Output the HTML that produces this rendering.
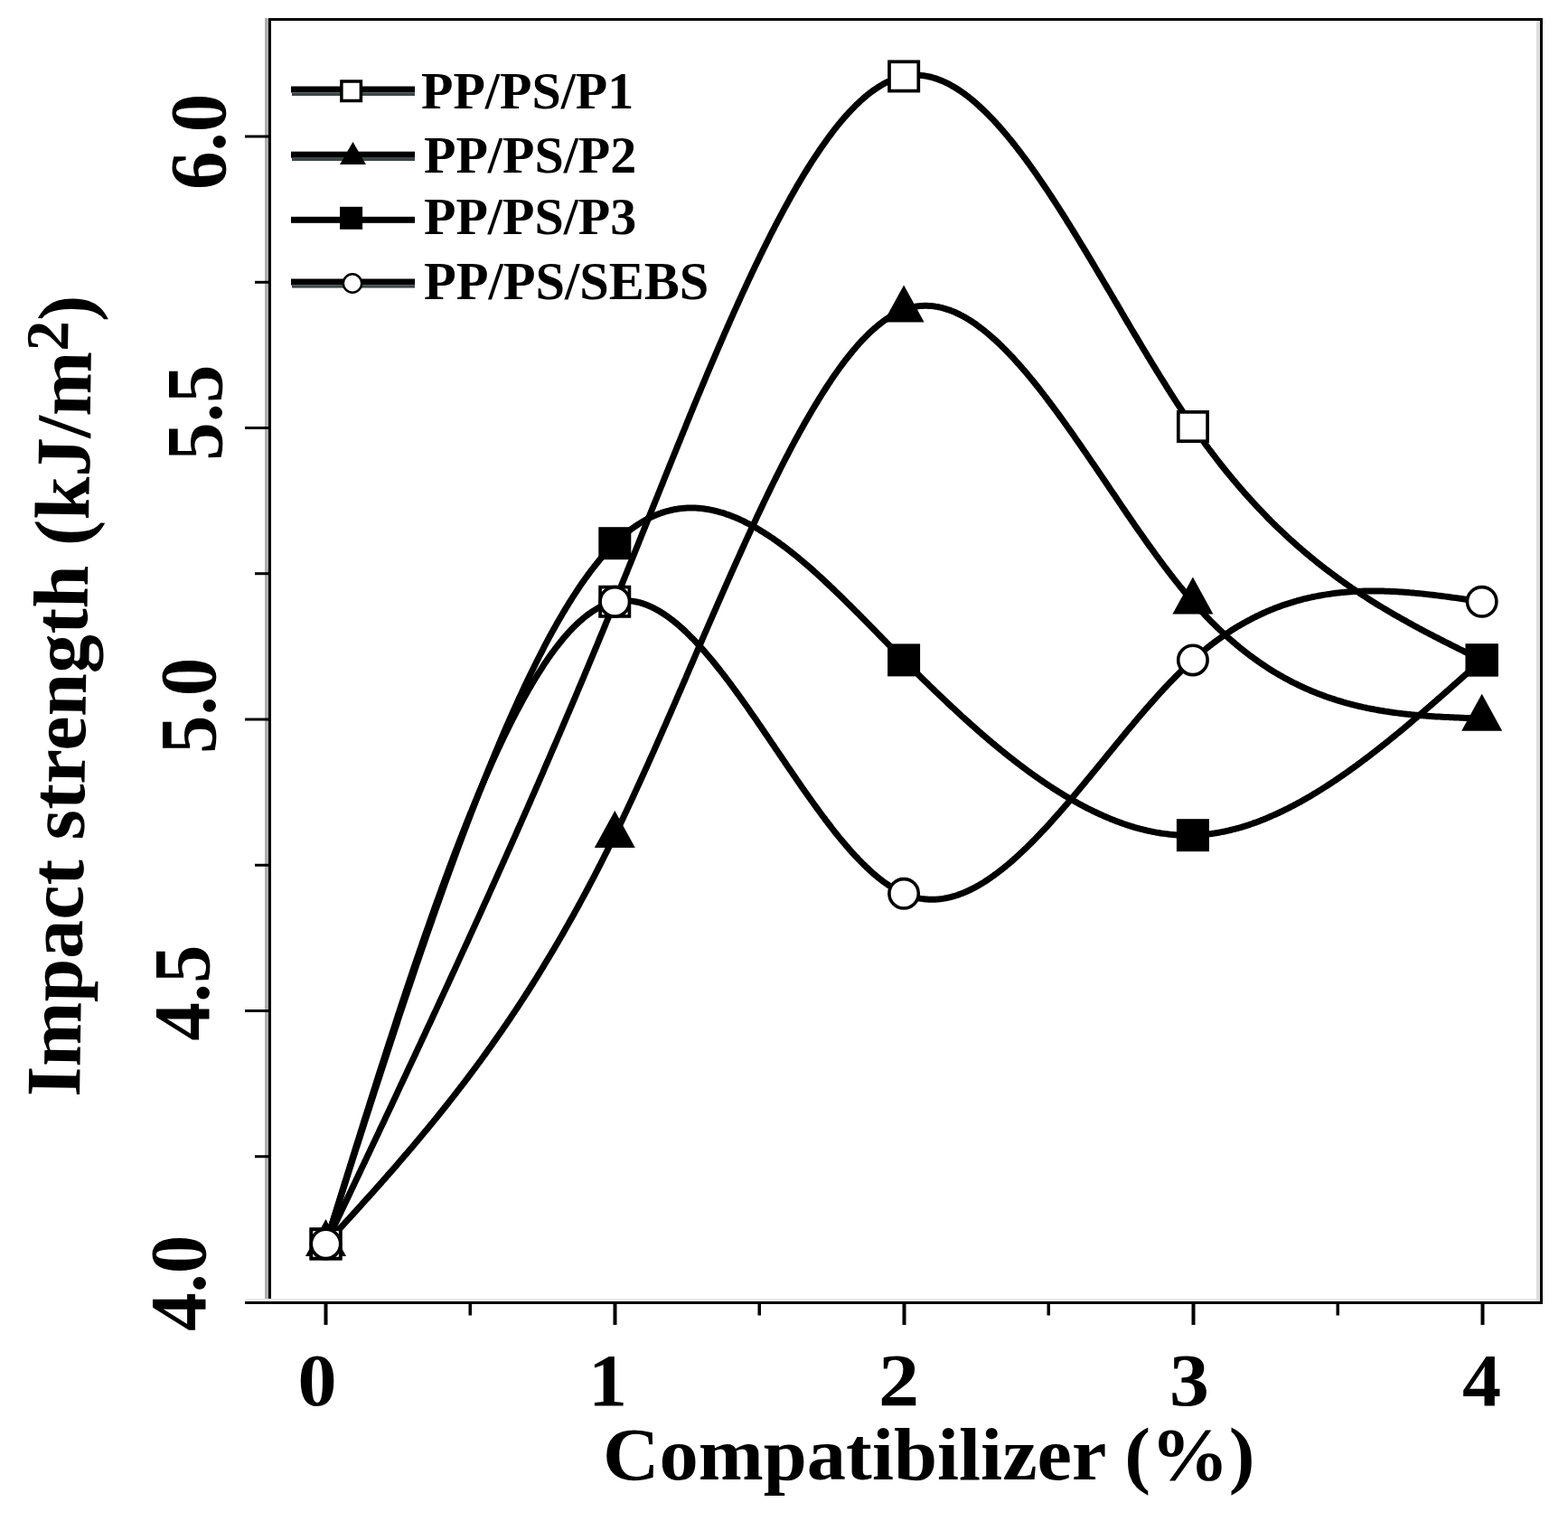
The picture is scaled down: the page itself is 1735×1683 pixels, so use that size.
<!DOCTYPE html><html><head><meta charset="utf-8"><style>html,body{margin:0;padding:0;background:#fff;overflow:hidden}svg{display:block}text{font-family:"Liberation Serif","Times New Roman",serif;font-weight:bold}</style></head><body><svg width="1735" height="1683" viewBox="0 0 1735 1683">
<rect width="1735" height="1683" fill="#fff"/>
<rect x="293" y="20" width="4" height="1420" fill="#aeaeae"/>
<rect x="1700" y="23" width="4" height="1417" fill="#dddddd"/>
<rect x="297" y="20" width="3" height="1423" fill="#000"/>
<rect x="297" y="20" width="1410" height="3" fill="#000"/>
<rect x="1704" y="20" width="3" height="1423" fill="#000"/>
<rect x="271" y="1437" width="1429" height="3" fill="#ececec"/>
<rect x="271" y="1440" width="1436" height="3" fill="#000"/>
<rect x="271" y="1117.0" width="27" height="3" fill="#000"/>
<rect x="271" y="794.5" width="27" height="3" fill="#000"/>
<rect x="271" y="472.0" width="27" height="3" fill="#000"/>
<rect x="271" y="149.5" width="27" height="3" fill="#000"/>
<rect x="282" y="1278.2" width="16" height="3" fill="#000"/>
<rect x="282" y="955.8" width="16" height="3" fill="#000"/>
<rect x="282" y="633.2" width="16" height="3" fill="#000"/>
<rect x="282" y="310.8" width="16" height="3" fill="#000"/>
<rect x="358.5" y="1442" width="4" height="24" fill="#000"/>
<rect x="678.5" y="1442" width="4" height="24" fill="#000"/>
<rect x="998.5" y="1442" width="4" height="24" fill="#000"/>
<rect x="1318.5" y="1442" width="4" height="24" fill="#000"/>
<rect x="1638.5" y="1442" width="4" height="24" fill="#000"/>
<rect x="518.5" y="1442" width="3.5" height="13.5" fill="#000"/>
<rect x="838.5" y="1442" width="3.5" height="13.5" fill="#000"/>
<rect x="1158.5" y="1442" width="3.5" height="13.5" fill="#000"/>
<rect x="1478.5" y="1442" width="3.5" height="13.5" fill="#000"/>
<path d="M360.5,1376.4 L362.1,1373.0 L363.7,1369.7 L365.3,1366.3 L366.9,1362.9 L368.5,1359.6 L370.1,1356.2 L371.7,1352.8 L373.3,1349.5 L374.9,1346.1 L376.5,1342.7 L378.1,1339.3 L379.7,1336.0 L381.3,1332.6 L382.9,1329.2 L384.5,1325.9 L386.1,1322.5 L387.7,1319.1 L389.3,1315.7 L390.9,1312.4 L392.5,1309.0 L394.1,1305.6 L395.7,1302.2 L397.3,1298.9 L398.9,1295.5 L400.5,1292.1 L402.1,1288.7 L403.7,1285.4 L405.3,1282.0 L406.9,1278.6 L408.5,1275.2 L410.1,1271.8 L411.7,1268.5 L413.3,1265.1 L414.9,1261.7 L416.5,1258.3 L418.1,1254.9 L419.7,1251.5 L421.3,1248.1 L422.9,1244.8 L424.5,1241.4 L426.1,1238.0 L427.7,1234.6 L429.3,1231.2 L430.9,1227.8 L432.5,1224.4 L434.1,1221.0 L435.7,1217.6 L437.3,1214.2 L438.9,1210.8 L440.4,1207.4 L442.0,1204.0 L443.6,1200.6 L445.2,1197.2 L446.8,1193.8 L448.4,1190.4 L450.0,1187.0 L451.6,1183.5 L453.2,1180.1 L454.8,1176.7 L456.4,1173.3 L458.0,1169.9 L459.6,1166.5 L461.2,1163.0 L462.8,1159.6 L464.4,1156.2 L466.0,1152.8 L467.6,1149.3 L469.2,1145.9 L470.8,1142.5 L472.4,1139.0 L474.0,1135.6 L475.6,1132.2 L477.2,1128.7 L478.8,1125.3 L480.4,1121.8 L482.0,1118.4 L483.6,1114.9 L485.2,1111.5 L486.8,1108.0 L488.4,1104.6 L490.0,1101.1 L491.6,1097.6 L493.2,1094.2 L494.8,1090.7 L496.4,1087.2 L498.0,1083.8 L499.6,1080.3 L501.2,1076.8 L502.8,1073.4 L504.4,1069.9 L506.0,1066.4 L507.6,1062.9 L509.2,1059.4 L510.8,1055.9 L512.4,1052.4 L514.0,1048.9 L515.6,1045.5 L517.2,1042.0 L518.8,1038.4 L520.4,1034.9 L522.0,1031.4 L523.6,1027.9 L525.2,1024.4 L526.8,1020.9 L528.4,1017.4 L530.0,1013.9 L531.6,1010.3 L533.2,1006.8 L534.8,1003.3 L536.4,999.7 L538.0,996.2 L539.6,992.7 L541.2,989.1 L542.8,985.6 L544.4,982.0 L546.0,978.5 L547.6,974.9 L549.2,971.3 L550.8,967.8 L552.4,964.2 L554.0,960.6 L555.6,957.1 L557.2,953.5 L558.8,949.9 L560.4,946.3 L562.0,942.7 L563.6,939.2 L565.2,935.6 L566.8,932.0 L568.4,928.4 L570.0,924.8 L571.6,921.2 L573.2,917.5 L574.8,913.9 L576.4,910.3 L578.0,906.7 L579.6,903.1 L581.2,899.4 L582.8,895.8 L584.4,892.2 L586.0,888.5 L587.6,884.9 L589.2,881.2 L590.8,877.6 L592.4,873.9 L594.0,870.2 L595.6,866.6 L597.2,862.9 L598.8,859.2 L600.4,855.6 L601.9,851.9 L603.5,848.2 L605.1,844.5 L606.7,840.8 L608.3,837.1 L609.9,833.4 L611.5,829.7 L613.1,826.0 L614.7,822.3 L616.3,818.6 L617.9,814.8 L619.5,811.1 L621.1,807.4 L622.7,803.6 L624.3,799.9 L625.9,796.1 L627.5,792.4 L629.1,788.6 L630.7,784.9 L632.3,781.1 L633.9,777.3 L635.5,773.6 L637.1,769.8 L638.7,766.0 L640.3,762.2 L641.9,758.4 L643.5,754.6 L645.1,750.8 L646.7,747.0 L648.3,743.2 L649.9,739.4 L651.5,735.5 L653.1,731.7 L654.7,727.9 L656.3,724.0 L657.9,720.2 L659.5,716.3 L661.1,712.5 L662.7,708.6 L664.3,704.7 L665.9,700.9 L667.5,697.0 L669.1,693.1 L670.7,689.2 L672.3,685.3 L673.9,681.4 L675.5,677.5 L677.1,673.6 L678.7,669.7 L680.3,665.8 L681.9,661.9 L683.5,657.9 L685.1,654.0 L686.7,650.1 L688.3,646.1 L689.9,642.2 L691.5,638.2 L693.1,634.3 L694.7,630.3 L696.3,626.3 L697.9,622.4 L699.5,618.4 L701.1,614.4 L702.7,610.5 L704.3,606.5 L705.9,602.5 L707.5,598.5 L709.1,594.5 L710.7,590.5 L712.3,586.6 L713.9,582.6 L715.5,578.6 L717.1,574.6 L718.7,570.6 L720.3,566.6 L721.9,562.6 L723.5,558.7 L725.1,554.7 L726.7,550.7 L728.3,546.7 L729.9,542.7 L731.5,538.7 L733.1,534.8 L734.7,530.8 L736.3,526.8 L737.9,522.8 L739.5,518.9 L741.1,514.9 L742.7,511.0 L744.3,507.0 L745.9,503.0 L747.5,499.1 L749.1,495.1 L750.7,491.2 L752.3,487.3 L753.9,483.3 L755.5,479.4 L757.1,475.5 L758.7,471.6 L760.2,467.7 L761.8,463.8 L763.4,459.9 L765.0,456.0 L766.6,452.1 L768.2,448.2 L769.8,444.4 L771.4,440.5 L773.0,436.7 L774.6,432.8 L776.2,429.0 L777.8,425.1 L779.4,421.3 L781.0,417.5 L782.6,413.7 L784.2,409.9 L785.8,406.2 L787.4,402.4 L789.0,398.6 L790.6,394.9 L792.2,391.1 L793.8,387.4 L795.4,383.7 L797.0,380.0 L798.6,376.3 L800.2,372.6 L801.8,368.9 L803.4,365.3 L805.0,361.6 L806.6,358.0 L808.2,354.4 L809.8,350.8 L811.4,347.2 L813.0,343.6 L814.6,340.1 L816.2,336.5 L817.8,333.0 L819.4,329.4 L821.0,325.9 L822.6,322.4 L824.2,319.0 L825.8,315.5 L827.4,312.1 L829.0,308.6 L830.6,305.2 L832.2,301.8 L833.8,298.5 L835.4,295.1 L837.0,291.8 L838.6,288.4 L840.2,285.1 L841.8,281.8 L843.4,278.6 L845.0,275.3 L846.6,272.1 L848.2,268.9 L849.8,265.7 L851.4,262.5 L853.0,259.3 L854.6,256.2 L856.2,253.1 L857.8,250.0 L859.4,246.9 L861.0,243.8 L862.6,240.8 L864.2,237.8 L865.8,234.8 L867.4,231.8 L869.0,228.9 L870.6,226.0 L872.2,223.1 L873.8,220.2 L875.4,217.3 L877.0,214.5 L878.6,211.7 L880.2,208.9 L881.8,206.1 L883.4,203.4 L885.0,200.7 L886.6,198.0 L888.2,195.3 L889.8,192.7 L891.4,190.0 L893.0,187.5 L894.6,184.9 L896.2,182.4 L897.8,179.8 L899.4,177.4 L901.0,174.9 L902.6,172.5 L904.2,170.1 L905.8,167.7 L907.4,165.3 L909.0,163.0 L910.6,160.7 L912.2,158.5 L913.8,156.2 L915.4,154.0 L917.0,151.8 L918.6,149.7 L920.1,147.6 L921.7,145.5 L923.3,143.4 L924.9,141.4 L926.5,139.4 L928.1,137.4 L929.7,135.5 L931.3,133.6 L932.9,131.7 L934.5,129.8 L936.1,128.0 L937.7,126.3 L939.3,124.5 L940.9,122.8 L942.5,121.1 L944.1,119.5 L945.7,117.8 L947.3,116.3 L948.9,114.7 L950.5,113.2 L952.1,111.7 L953.7,110.3 L955.3,108.9 L956.9,107.5 L958.5,106.1 L960.1,104.8 L961.7,103.6 L963.3,102.3 L964.9,101.1 L966.5,100.0 L968.1,98.9 L969.7,97.8 L971.3,96.7 L972.9,95.7 L974.5,94.7 L976.1,93.8 L977.7,92.9 L979.3,92.0 L980.9,91.2 L982.5,90.4 L984.1,89.7 L985.7,89.0 L987.3,88.3 L988.9,87.7 L990.5,87.1 L992.1,86.5 L993.7,86.0 L995.3,85.6 L996.9,85.1 L998.5,84.7 L1000.1,84.4 L1001.7,84.1 L1003.3,83.8 L1004.9,83.6 L1006.5,83.4 L1008.1,83.3 L1009.7,83.2 L1011.3,83.1 L1012.9,83.1 L1014.5,83.1 L1016.1,83.2 L1017.7,83.3 L1019.3,83.4 L1020.9,83.6 L1022.5,83.8 L1024.1,84.1 L1025.7,84.4 L1027.3,84.7 L1028.9,85.0 L1030.5,85.4 L1032.1,85.9 L1033.7,86.3 L1035.3,86.8 L1036.9,87.4 L1038.5,88.0 L1040.1,88.6 L1041.7,89.2 L1043.3,89.9 L1044.9,90.6 L1046.5,91.3 L1048.1,92.1 L1049.7,92.9 L1051.3,93.8 L1052.9,94.7 L1054.5,95.6 L1056.1,96.5 L1057.7,97.5 L1059.3,98.5 L1060.9,99.5 L1062.5,100.6 L1064.1,101.7 L1065.7,102.8 L1067.3,104.0 L1068.9,105.1 L1070.5,106.4 L1072.1,107.6 L1073.7,108.9 L1075.3,110.2 L1076.9,111.5 L1078.5,112.9 L1080.1,114.2 L1081.6,115.7 L1083.2,117.1 L1084.8,118.6 L1086.4,120.1 L1088.0,121.6 L1089.6,123.1 L1091.2,124.7 L1092.8,126.3 L1094.4,127.9 L1096.0,129.6 L1097.6,131.2 L1099.2,132.9 L1100.8,134.6 L1102.4,136.4 L1104.0,138.1 L1105.6,139.9 L1107.2,141.7 L1108.8,143.6 L1110.4,145.4 L1112.0,147.3 L1113.6,149.2 L1115.2,151.1 L1116.8,153.1 L1118.4,155.0 L1120.0,157.0 L1121.6,159.0 L1123.2,161.0 L1124.8,163.1 L1126.4,165.2 L1128.0,167.2 L1129.6,169.3 L1131.2,171.5 L1132.8,173.6 L1134.4,175.7 L1136.0,177.9 L1137.6,180.1 L1139.2,182.3 L1140.8,184.5 L1142.4,186.8 L1144.0,189.0 L1145.6,191.3 L1147.2,193.6 L1148.8,195.9 L1150.4,198.2 L1152.0,200.6 L1153.6,202.9 L1155.2,205.3 L1156.8,207.7 L1158.4,210.0 L1160.0,212.4 L1161.6,214.9 L1163.2,217.3 L1164.8,219.7 L1166.4,222.2 L1168.0,224.7 L1169.6,227.1 L1171.2,229.6 L1172.8,232.1 L1174.4,234.6 L1176.0,237.2 L1177.6,239.7 L1179.2,242.2 L1180.8,244.8 L1182.4,247.4 L1184.0,249.9 L1185.6,252.5 L1187.2,255.1 L1188.8,257.7 L1190.4,260.3 L1192.0,262.9 L1193.6,265.5 L1195.2,268.2 L1196.8,270.8 L1198.4,273.4 L1200.0,276.1 L1201.6,278.7 L1203.2,281.4 L1204.8,284.1 L1206.4,286.7 L1208.0,289.4 L1209.6,292.1 L1211.2,294.8 L1212.8,297.5 L1214.4,300.2 L1216.0,302.9 L1217.6,305.6 L1219.2,308.3 L1220.8,311.0 L1222.4,313.7 L1224.0,316.4 L1225.6,319.1 L1227.2,321.8 L1228.8,324.5 L1230.4,327.2 L1232.0,329.9 L1233.6,332.7 L1235.2,335.4 L1236.8,338.1 L1238.4,340.8 L1240.0,343.5 L1241.5,346.2 L1243.1,348.9 L1244.7,351.7 L1246.3,354.4 L1247.9,357.1 L1249.5,359.8 L1251.1,362.5 L1252.7,365.2 L1254.3,367.9 L1255.9,370.6 L1257.5,373.2 L1259.1,375.9 L1260.7,378.6 L1262.3,381.3 L1263.9,384.0 L1265.5,386.6 L1267.1,389.3 L1268.7,391.9 L1270.3,394.6 L1271.9,397.2 L1273.5,399.8 L1275.1,402.5 L1276.7,405.1 L1278.3,407.7 L1279.9,410.3 L1281.5,412.9 L1283.1,415.5 L1284.7,418.1 L1286.3,420.6 L1287.9,423.2 L1289.5,425.7 L1291.1,428.3 L1292.7,430.8 L1294.3,433.3 L1295.9,435.8 L1297.5,438.3 L1299.1,440.8 L1300.7,443.3 L1302.3,445.8 L1303.9,448.2 L1305.5,450.7 L1307.1,453.1 L1308.7,455.5 L1310.3,457.9 L1311.9,460.3 L1313.5,462.7 L1315.1,465.0 L1316.7,467.4 L1318.3,469.7 L1319.9,472.0 L1321.5,474.3 L1323.1,476.6 L1324.7,478.9 L1326.3,481.1 L1327.9,483.3 L1329.5,485.6 L1331.1,487.8 L1332.7,490.0 L1334.3,492.2 L1335.9,494.3 L1337.5,496.5 L1339.1,498.6 L1340.7,500.7 L1342.3,502.8 L1343.9,504.9 L1345.5,507.0 L1347.1,509.1 L1348.7,511.1 L1350.3,513.2 L1351.9,515.2 L1353.5,517.2 L1355.1,519.2 L1356.7,521.2 L1358.3,523.2 L1359.9,525.1 L1361.5,527.1 L1363.1,529.0 L1364.7,530.9 L1366.3,532.8 L1367.9,534.7 L1369.5,536.6 L1371.1,538.4 L1372.7,540.3 L1374.3,542.1 L1375.9,544.0 L1377.5,545.8 L1379.1,547.6 L1380.7,549.4 L1382.3,551.2 L1383.9,552.9 L1385.5,554.7 L1387.1,556.4 L1388.7,558.1 L1390.3,559.9 L1391.9,561.6 L1393.5,563.3 L1395.1,564.9 L1396.7,566.6 L1398.3,568.3 L1399.9,569.9 L1401.4,571.5 L1403.0,573.2 L1404.6,574.8 L1406.2,576.4 L1407.8,578.0 L1409.4,579.6 L1411.0,581.1 L1412.6,582.7 L1414.2,584.2 L1415.8,585.8 L1417.4,587.3 L1419.0,588.8 L1420.6,590.3 L1422.2,591.8 L1423.8,593.3 L1425.4,594.8 L1427.0,596.2 L1428.6,597.7 L1430.2,599.1 L1431.8,600.5 L1433.4,602.0 L1435.0,603.4 L1436.6,604.8 L1438.2,606.2 L1439.8,607.6 L1441.4,608.9 L1443.0,610.3 L1444.6,611.7 L1446.2,613.0 L1447.8,614.3 L1449.4,615.7 L1451.0,617.0 L1452.6,618.3 L1454.2,619.6 L1455.8,620.9 L1457.4,622.2 L1459.0,623.5 L1460.6,624.7 L1462.2,626.0 L1463.8,627.2 L1465.4,628.5 L1467.0,629.7 L1468.6,630.9 L1470.2,632.1 L1471.8,633.3 L1473.4,634.5 L1475.0,635.7 L1476.6,636.9 L1478.2,638.1 L1479.8,639.3 L1481.4,640.4 L1483.0,641.6 L1484.6,642.7 L1486.2,643.9 L1487.8,645.0 L1489.4,646.1 L1491.0,647.2 L1492.6,648.4 L1494.2,649.5 L1495.8,650.6 L1497.4,651.6 L1499.0,652.7 L1500.6,653.8 L1502.2,654.9 L1503.8,655.9 L1505.4,657.0 L1507.0,658.0 L1508.6,659.1 L1510.2,660.1 L1511.8,661.1 L1513.4,662.2 L1515.0,663.2 L1516.6,664.2 L1518.2,665.2 L1519.8,666.2 L1521.4,667.2 L1523.0,668.2 L1524.6,669.2 L1526.2,670.2 L1527.8,671.1 L1529.4,672.1 L1531.0,673.1 L1532.6,674.0 L1534.2,675.0 L1535.8,675.9 L1537.4,676.9 L1539.0,677.8 L1540.6,678.7 L1542.2,679.7 L1543.8,680.6 L1545.4,681.5 L1547.0,682.4 L1548.6,683.3 L1550.2,684.2 L1551.8,685.1 L1553.4,686.0 L1555.0,686.9 L1556.6,687.8 L1558.2,688.7 L1559.8,689.6 L1561.3,690.5 L1562.9,691.3 L1564.5,692.2 L1566.1,693.1 L1567.7,693.9 L1569.3,694.8 L1570.9,695.7 L1572.5,696.5 L1574.1,697.4 L1575.7,698.2 L1577.3,699.1 L1578.9,699.9 L1580.5,700.7 L1582.1,701.6 L1583.7,702.4 L1585.3,703.2 L1586.9,704.1 L1588.5,704.9 L1590.1,705.7 L1591.7,706.5 L1593.3,707.3 L1594.9,708.2 L1596.5,709.0 L1598.1,709.8 L1599.7,710.6 L1601.3,711.4 L1602.9,712.2 L1604.5,713.0 L1606.1,713.8 L1607.7,714.6 L1609.3,715.4 L1610.9,716.2 L1612.5,717.0 L1614.1,717.8 L1615.7,718.6 L1617.3,719.4 L1618.9,720.2 L1620.5,721.0 L1622.1,721.8 L1623.7,722.5 L1625.3,723.3 L1626.9,724.1 L1628.5,724.9 L1630.1,725.7 L1631.7,726.5 L1633.3,727.3 L1634.9,728.0 L1636.5,728.8 L1638.1,729.6 L1639.7,730.4" fill="none" stroke="#000" stroke-width="7.0" stroke-linejoin="round"/>
<path d="M360.5,1376.4 L362.1,1374.7 L363.7,1372.9 L365.3,1371.2 L366.9,1369.4 L368.5,1367.7 L370.1,1365.9 L371.7,1364.2 L373.3,1362.4 L374.9,1360.7 L376.5,1358.9 L378.1,1357.2 L379.7,1355.4 L381.3,1353.7 L382.9,1351.9 L384.5,1350.1 L386.1,1348.4 L387.7,1346.6 L389.3,1344.9 L390.9,1343.1 L392.5,1341.3 L394.1,1339.6 L395.7,1337.8 L397.3,1336.0 L398.9,1334.3 L400.5,1332.5 L402.1,1330.7 L403.7,1329.0 L405.3,1327.2 L406.9,1325.4 L408.5,1323.6 L410.1,1321.8 L411.7,1320.1 L413.3,1318.3 L414.9,1316.5 L416.5,1314.7 L418.1,1312.9 L419.7,1311.1 L421.3,1309.3 L422.9,1307.5 L424.5,1305.7 L426.1,1303.9 L427.7,1302.0 L429.3,1300.2 L430.9,1298.4 L432.5,1296.6 L434.1,1294.8 L435.7,1292.9 L437.3,1291.1 L438.9,1289.3 L440.4,1287.4 L442.0,1285.6 L443.6,1283.7 L445.2,1281.9 L446.8,1280.0 L448.4,1278.1 L450.0,1276.3 L451.6,1274.4 L453.2,1272.5 L454.8,1270.7 L456.4,1268.8 L458.0,1266.9 L459.6,1265.0 L461.2,1263.1 L462.8,1261.2 L464.4,1259.3 L466.0,1257.4 L467.6,1255.4 L469.2,1253.5 L470.8,1251.6 L472.4,1249.7 L474.0,1247.7 L475.6,1245.8 L477.2,1243.8 L478.8,1241.9 L480.4,1239.9 L482.0,1237.9 L483.6,1236.0 L485.2,1234.0 L486.8,1232.0 L488.4,1230.0 L490.0,1228.0 L491.6,1226.0 L493.2,1224.0 L494.8,1222.0 L496.4,1220.0 L498.0,1217.9 L499.6,1215.9 L501.2,1213.9 L502.8,1211.8 L504.4,1209.8 L506.0,1207.7 L507.6,1205.6 L509.2,1203.5 L510.8,1201.5 L512.4,1199.4 L514.0,1197.3 L515.6,1195.2 L517.2,1193.1 L518.8,1190.9 L520.4,1188.8 L522.0,1186.7 L523.6,1184.5 L525.2,1182.4 L526.8,1180.2 L528.4,1178.0 L530.0,1175.9 L531.6,1173.7 L533.2,1171.5 L534.8,1169.3 L536.4,1167.1 L538.0,1164.9 L539.6,1162.6 L541.2,1160.4 L542.8,1158.2 L544.4,1155.9 L546.0,1153.6 L547.6,1151.4 L549.2,1149.1 L550.8,1146.8 L552.4,1144.5 L554.0,1142.2 L555.6,1139.9 L557.2,1137.6 L558.8,1135.2 L560.4,1132.9 L562.0,1130.5 L563.6,1128.2 L565.2,1125.8 L566.8,1123.4 L568.4,1121.0 L570.0,1118.6 L571.6,1116.2 L573.2,1113.8 L574.8,1111.3 L576.4,1108.9 L578.0,1106.4 L579.6,1104.0 L581.2,1101.5 L582.8,1099.0 L584.4,1096.5 L586.0,1094.0 L587.6,1091.5 L589.2,1089.0 L590.8,1086.4 L592.4,1083.9 L594.0,1081.3 L595.6,1078.7 L597.2,1076.1 L598.8,1073.5 L600.4,1070.9 L601.9,1068.3 L603.5,1065.7 L605.1,1063.0 L606.7,1060.4 L608.3,1057.7 L609.9,1055.0 L611.5,1052.4 L613.1,1049.7 L614.7,1046.9 L616.3,1044.2 L617.9,1041.5 L619.5,1038.7 L621.1,1036.0 L622.7,1033.2 L624.3,1030.4 L625.9,1027.6 L627.5,1024.8 L629.1,1021.9 L630.7,1019.1 L632.3,1016.2 L633.9,1013.4 L635.5,1010.5 L637.1,1007.6 L638.7,1004.7 L640.3,1001.8 L641.9,998.8 L643.5,995.9 L645.1,992.9 L646.7,990.0 L648.3,987.0 L649.9,984.0 L651.5,981.0 L653.1,977.9 L654.7,974.9 L656.3,971.8 L657.9,968.8 L659.5,965.7 L661.1,962.6 L662.7,959.4 L664.3,956.3 L665.9,953.2 L667.5,950.0 L669.1,946.8 L670.7,943.7 L672.3,940.4 L673.9,937.2 L675.5,934.0 L677.1,930.7 L678.7,927.5 L680.3,924.2 L681.9,920.9 L683.5,917.6 L685.1,914.3 L686.7,910.9 L688.3,907.6 L689.9,904.2 L691.5,900.8 L693.1,897.4 L694.7,894.0 L696.3,890.6 L697.9,887.2 L699.5,883.7 L701.1,880.3 L702.7,876.8 L704.3,873.3 L705.9,869.8 L707.5,866.3 L709.1,862.8 L710.7,859.3 L712.3,855.8 L713.9,852.2 L715.5,848.7 L717.1,845.1 L718.7,841.5 L720.3,837.9 L721.9,834.4 L723.5,830.8 L725.1,827.2 L726.7,823.6 L728.3,819.9 L729.9,816.3 L731.5,812.7 L733.1,809.0 L734.7,805.4 L736.3,801.8 L737.9,798.1 L739.5,794.4 L741.1,790.8 L742.7,787.1 L744.3,783.4 L745.9,779.8 L747.5,776.1 L749.1,772.4 L750.7,768.7 L752.3,765.0 L753.9,761.3 L755.5,757.7 L757.1,754.0 L758.7,750.3 L760.2,746.6 L761.8,742.9 L763.4,739.2 L765.0,735.5 L766.6,731.8 L768.2,728.1 L769.8,724.4 L771.4,720.7 L773.0,717.0 L774.6,713.3 L776.2,709.6 L777.8,705.9 L779.4,702.2 L781.0,698.5 L782.6,694.8 L784.2,691.2 L785.8,687.5 L787.4,683.8 L789.0,680.1 L790.6,676.5 L792.2,672.8 L793.8,669.1 L795.4,665.5 L797.0,661.8 L798.6,658.2 L800.2,654.6 L801.8,650.9 L803.4,647.3 L805.0,643.7 L806.6,640.1 L808.2,636.5 L809.8,632.9 L811.4,629.3 L813.0,625.7 L814.6,622.2 L816.2,618.6 L817.8,615.1 L819.4,611.5 L821.0,608.0 L822.6,604.5 L824.2,600.9 L825.8,597.4 L827.4,594.0 L829.0,590.5 L830.6,587.0 L832.2,583.5 L833.8,580.1 L835.4,576.7 L837.0,573.2 L838.6,569.8 L840.2,566.4 L841.8,563.1 L843.4,559.7 L845.0,556.3 L846.6,553.0 L848.2,549.7 L849.8,546.4 L851.4,543.1 L853.0,539.8 L854.6,536.5 L856.2,533.3 L857.8,530.1 L859.4,526.9 L861.0,523.7 L862.6,520.5 L864.2,517.3 L865.8,514.2 L867.4,511.0 L869.0,507.9 L870.6,504.8 L872.2,501.8 L873.8,498.7 L875.4,495.7 L877.0,492.7 L878.6,489.7 L880.2,486.7 L881.8,483.8 L883.4,480.8 L885.0,477.9 L886.6,475.0 L888.2,472.2 L889.8,469.3 L891.4,466.5 L893.0,463.7 L894.6,460.9 L896.2,458.2 L897.8,455.4 L899.4,452.7 L901.0,450.1 L902.6,447.4 L904.2,444.8 L905.8,442.2 L907.4,439.6 L909.0,437.0 L910.6,434.5 L912.2,432.0 L913.8,429.5 L915.4,427.0 L917.0,424.6 L918.6,422.2 L920.1,419.9 L921.7,417.5 L923.3,415.2 L924.9,412.9 L926.5,410.7 L928.1,408.4 L929.7,406.2 L931.3,404.1 L932.9,401.9 L934.5,399.8 L936.1,397.7 L937.7,395.7 L939.3,393.7 L940.9,391.7 L942.5,389.7 L944.1,387.8 L945.7,385.9 L947.3,384.0 L948.9,382.2 L950.5,380.4 L952.1,378.7 L953.7,376.9 L955.3,375.3 L956.9,373.6 L958.5,372.0 L960.1,370.4 L961.7,368.8 L963.3,367.3 L964.9,365.8 L966.5,364.4 L968.1,363.0 L969.7,361.6 L971.3,360.3 L972.9,359.0 L974.5,357.7 L976.1,356.5 L977.7,355.3 L979.3,354.1 L980.9,353.0 L982.5,352.0 L984.1,350.9 L985.7,349.9 L987.3,349.0 L988.9,348.1 L990.5,347.2 L992.1,346.3 L993.7,345.6 L995.3,344.8 L996.9,344.1 L998.5,343.4 L1000.1,342.8 L1001.7,342.2 L1003.3,341.7 L1004.9,341.2 L1006.5,340.7 L1008.1,340.3 L1009.7,339.9 L1011.3,339.6 L1012.9,339.3 L1014.5,339.0 L1016.1,338.8 L1017.7,338.6 L1019.3,338.5 L1020.9,338.4 L1022.5,338.3 L1024.1,338.3 L1025.7,338.3 L1027.3,338.4 L1028.9,338.4 L1030.5,338.6 L1032.1,338.7 L1033.7,338.9 L1035.3,339.2 L1036.9,339.4 L1038.5,339.7 L1040.1,340.1 L1041.7,340.4 L1043.3,340.9 L1044.9,341.3 L1046.5,341.8 L1048.1,342.3 L1049.7,342.8 L1051.3,343.4 L1052.9,344.0 L1054.5,344.6 L1056.1,345.3 L1057.7,346.0 L1059.3,346.8 L1060.9,347.5 L1062.5,348.3 L1064.1,349.1 L1065.7,350.0 L1067.3,350.9 L1068.9,351.8 L1070.5,352.8 L1072.1,353.7 L1073.7,354.7 L1075.3,355.8 L1076.9,356.8 L1078.5,357.9 L1080.1,359.0 L1081.6,360.2 L1083.2,361.4 L1084.8,362.6 L1086.4,363.8 L1088.0,365.0 L1089.6,366.3 L1091.2,367.6 L1092.8,368.9 L1094.4,370.3 L1096.0,371.7 L1097.6,373.1 L1099.2,374.5 L1100.8,375.9 L1102.4,377.4 L1104.0,378.9 L1105.6,380.4 L1107.2,381.9 L1108.8,383.5 L1110.4,385.1 L1112.0,386.7 L1113.6,388.3 L1115.2,390.0 L1116.8,391.6 L1118.4,393.3 L1120.0,395.0 L1121.6,396.7 L1123.2,398.5 L1124.8,400.3 L1126.4,402.0 L1128.0,403.8 L1129.6,405.7 L1131.2,407.5 L1132.8,409.4 L1134.4,411.2 L1136.0,413.1 L1137.6,415.0 L1139.2,416.9 L1140.8,418.9 L1142.4,420.8 L1144.0,422.8 L1145.6,424.8 L1147.2,426.8 L1148.8,428.8 L1150.4,430.8 L1152.0,432.9 L1153.6,434.9 L1155.2,437.0 L1156.8,439.1 L1158.4,441.2 L1160.0,443.3 L1161.6,445.4 L1163.2,447.6 L1164.8,449.7 L1166.4,451.9 L1168.0,454.0 L1169.6,456.2 L1171.2,458.4 L1172.8,460.6 L1174.4,462.8 L1176.0,465.0 L1177.6,467.2 L1179.2,469.5 L1180.8,471.7 L1182.4,474.0 L1184.0,476.2 L1185.6,478.5 L1187.2,480.8 L1188.8,483.1 L1190.4,485.4 L1192.0,487.7 L1193.6,490.0 L1195.2,492.3 L1196.8,494.6 L1198.4,496.9 L1200.0,499.2 L1201.6,501.5 L1203.2,503.9 L1204.8,506.2 L1206.4,508.6 L1208.0,510.9 L1209.6,513.3 L1211.2,515.6 L1212.8,518.0 L1214.4,520.3 L1216.0,522.7 L1217.6,525.0 L1219.2,527.4 L1220.8,529.8 L1222.4,532.1 L1224.0,534.5 L1225.6,536.8 L1227.2,539.2 L1228.8,541.6 L1230.4,543.9 L1232.0,546.3 L1233.6,548.6 L1235.2,551.0 L1236.8,553.4 L1238.4,555.7 L1240.0,558.1 L1241.5,560.4 L1243.1,562.8 L1244.7,565.1 L1246.3,567.4 L1247.9,569.8 L1249.5,572.1 L1251.1,574.4 L1252.7,576.8 L1254.3,579.1 L1255.9,581.4 L1257.5,583.7 L1259.1,586.0 L1260.7,588.3 L1262.3,590.6 L1263.9,592.8 L1265.5,595.1 L1267.1,597.4 L1268.7,599.6 L1270.3,601.9 L1271.9,604.1 L1273.5,606.3 L1275.1,608.6 L1276.7,610.8 L1278.3,613.0 L1279.9,615.2 L1281.5,617.3 L1283.1,619.5 L1284.7,621.7 L1286.3,623.8 L1287.9,626.0 L1289.5,628.1 L1291.1,630.2 L1292.7,632.3 L1294.3,634.4 L1295.9,636.5 L1297.5,638.5 L1299.1,640.6 L1300.7,642.6 L1302.3,644.6 L1303.9,646.6 L1305.5,648.6 L1307.1,650.6 L1308.7,652.5 L1310.3,654.5 L1311.9,656.4 L1313.5,658.3 L1315.1,660.2 L1316.7,662.1 L1318.3,664.0 L1319.9,665.8 L1321.5,667.6 L1323.1,669.4 L1324.7,671.2 L1326.3,673.0 L1327.9,674.7 L1329.5,676.5 L1331.1,678.2 L1332.7,679.9 L1334.3,681.6 L1335.9,683.3 L1337.5,684.9 L1339.1,686.6 L1340.7,688.2 L1342.3,689.8 L1343.9,691.4 L1345.5,692.9 L1347.1,694.5 L1348.7,696.0 L1350.3,697.5 L1351.9,699.0 L1353.5,700.5 L1355.1,702.0 L1356.7,703.5 L1358.3,704.9 L1359.9,706.3 L1361.5,707.7 L1363.1,709.1 L1364.7,710.5 L1366.3,711.9 L1367.9,713.2 L1369.5,714.5 L1371.1,715.9 L1372.7,717.2 L1374.3,718.4 L1375.9,719.7 L1377.5,721.0 L1379.1,722.2 L1380.7,723.4 L1382.3,724.7 L1383.9,725.9 L1385.5,727.0 L1387.1,728.2 L1388.7,729.4 L1390.3,730.5 L1391.9,731.6 L1393.5,732.8 L1395.1,733.9 L1396.7,735.0 L1398.3,736.0 L1399.9,737.1 L1401.4,738.1 L1403.0,739.2 L1404.6,740.2 L1406.2,741.2 L1407.8,742.2 L1409.4,743.2 L1411.0,744.1 L1412.6,745.1 L1414.2,746.0 L1415.8,747.0 L1417.4,747.9 L1419.0,748.8 L1420.6,749.7 L1422.2,750.6 L1423.8,751.4 L1425.4,752.3 L1427.0,753.2 L1428.6,754.0 L1430.2,754.8 L1431.8,755.6 L1433.4,756.4 L1435.0,757.2 L1436.6,758.0 L1438.2,758.7 L1439.8,759.5 L1441.4,760.2 L1443.0,761.0 L1444.6,761.7 L1446.2,762.4 L1447.8,763.1 L1449.4,763.8 L1451.0,764.5 L1452.6,765.1 L1454.2,765.8 L1455.8,766.4 L1457.4,767.1 L1459.0,767.7 L1460.6,768.3 L1462.2,768.9 L1463.8,769.5 L1465.4,770.1 L1467.0,770.7 L1468.6,771.3 L1470.2,771.8 L1471.8,772.4 L1473.4,772.9 L1475.0,773.4 L1476.6,773.9 L1478.2,774.5 L1479.8,775.0 L1481.4,775.4 L1483.0,775.9 L1484.6,776.4 L1486.2,776.9 L1487.8,777.3 L1489.4,777.8 L1491.0,778.2 L1492.6,778.7 L1494.2,779.1 L1495.8,779.5 L1497.4,779.9 L1499.0,780.3 L1500.6,780.7 L1502.2,781.1 L1503.8,781.5 L1505.4,781.8 L1507.0,782.2 L1508.6,782.6 L1510.2,782.9 L1511.8,783.2 L1513.4,783.6 L1515.0,783.9 L1516.6,784.2 L1518.2,784.5 L1519.8,784.8 L1521.4,785.1 L1523.0,785.4 L1524.6,785.7 L1526.2,786.0 L1527.8,786.3 L1529.4,786.5 L1531.0,786.8 L1532.6,787.1 L1534.2,787.3 L1535.8,787.5 L1537.4,787.8 L1539.0,788.0 L1540.6,788.2 L1542.2,788.5 L1543.8,788.7 L1545.4,788.9 L1547.0,789.1 L1548.6,789.3 L1550.2,789.5 L1551.8,789.7 L1553.4,789.9 L1555.0,790.0 L1556.6,790.2 L1558.2,790.4 L1559.8,790.5 L1561.3,790.7 L1562.9,790.9 L1564.5,791.0 L1566.1,791.2 L1567.7,791.3 L1569.3,791.5 L1570.9,791.6 L1572.5,791.7 L1574.1,791.8 L1575.7,792.0 L1577.3,792.1 L1578.9,792.2 L1580.5,792.3 L1582.1,792.4 L1583.7,792.5 L1585.3,792.7 L1586.9,792.8 L1588.5,792.9 L1590.1,792.9 L1591.7,793.0 L1593.3,793.1 L1594.9,793.2 L1596.5,793.3 L1598.1,793.4 L1599.7,793.5 L1601.3,793.5 L1602.9,793.6 L1604.5,793.7 L1606.1,793.8 L1607.7,793.8 L1609.3,793.9 L1610.9,794.0 L1612.5,794.0 L1614.1,794.1 L1615.7,794.2 L1617.3,794.2 L1618.9,794.3 L1620.5,794.4 L1622.1,794.4 L1623.7,794.5 L1625.3,794.5 L1626.9,794.6 L1628.5,794.6 L1630.1,794.7 L1631.7,794.7 L1633.3,794.8 L1634.9,794.8 L1636.5,794.9 L1638.1,794.9 L1639.7,795.0" fill="none" stroke="#000" stroke-width="7.0" stroke-linejoin="round"/>
<path d="M360.5,1376.4 L362.1,1371.4 L363.7,1366.3 L365.3,1361.3 L366.9,1356.3 L368.5,1351.3 L370.1,1346.2 L371.7,1341.2 L373.3,1336.2 L374.9,1331.2 L376.5,1326.1 L378.1,1321.1 L379.7,1316.1 L381.3,1311.1 L382.9,1306.1 L384.5,1301.1 L386.1,1296.0 L387.7,1291.0 L389.3,1286.0 L390.9,1281.0 L392.5,1276.0 L394.1,1271.0 L395.7,1266.1 L397.3,1261.1 L398.9,1256.1 L400.5,1251.1 L402.1,1246.1 L403.7,1241.2 L405.3,1236.2 L406.9,1231.2 L408.5,1226.3 L410.1,1221.3 L411.7,1216.4 L413.3,1211.5 L414.9,1206.5 L416.5,1201.6 L418.1,1196.7 L419.7,1191.8 L421.3,1186.9 L422.9,1182.0 L424.5,1177.1 L426.1,1172.2 L427.7,1167.3 L429.3,1162.4 L430.9,1157.6 L432.5,1152.7 L434.1,1147.8 L435.7,1143.0 L437.3,1138.2 L438.9,1133.3 L440.4,1128.5 L442.0,1123.7 L443.6,1118.9 L445.2,1114.1 L446.8,1109.3 L448.4,1104.6 L450.0,1099.8 L451.6,1095.1 L453.2,1090.3 L454.8,1085.6 L456.4,1080.9 L458.0,1076.1 L459.6,1071.4 L461.2,1066.7 L462.8,1062.1 L464.4,1057.4 L466.0,1052.7 L467.6,1048.1 L469.2,1043.5 L470.8,1038.8 L472.4,1034.2 L474.0,1029.6 L475.6,1025.0 L477.2,1020.5 L478.8,1015.9 L480.4,1011.3 L482.0,1006.8 L483.6,1002.3 L485.2,997.8 L486.8,993.3 L488.4,988.8 L490.0,984.3 L491.6,979.9 L493.2,975.4 L494.8,971.0 L496.4,966.6 L498.0,962.2 L499.6,957.8 L501.2,953.5 L502.8,949.1 L504.4,944.8 L506.0,940.4 L507.6,936.1 L509.2,931.8 L510.8,927.6 L512.4,923.3 L514.0,919.1 L515.6,914.9 L517.2,910.6 L518.8,906.5 L520.4,902.3 L522.0,898.1 L523.6,894.0 L525.2,889.9 L526.8,885.8 L528.4,881.7 L530.0,877.6 L531.6,873.6 L533.2,869.5 L534.8,865.5 L536.4,861.5 L538.0,857.6 L539.6,853.6 L541.2,849.7 L542.8,845.8 L544.4,841.9 L546.0,838.0 L547.6,834.1 L549.2,830.3 L550.8,826.5 L552.4,822.7 L554.0,818.9 L555.6,815.2 L557.2,811.4 L558.8,807.7 L560.4,804.0 L562.0,800.4 L563.6,796.7 L565.2,793.1 L566.8,789.5 L568.4,785.9 L570.0,782.4 L571.6,778.8 L573.2,775.3 L574.8,771.8 L576.4,768.4 L578.0,764.9 L579.6,761.5 L581.2,758.1 L582.8,754.7 L584.4,751.4 L586.0,748.1 L587.6,744.8 L589.2,741.5 L590.8,738.3 L592.4,735.0 L594.0,731.8 L595.6,728.7 L597.2,725.5 L598.8,722.4 L600.4,719.3 L601.9,716.2 L603.5,713.2 L605.1,710.2 L606.7,707.2 L608.3,704.2 L609.9,701.3 L611.5,698.4 L613.1,695.5 L614.7,692.6 L616.3,689.8 L617.9,687.0 L619.5,684.2 L621.1,681.5 L622.7,678.8 L624.3,676.1 L625.9,673.4 L627.5,670.8 L629.1,668.2 L630.7,665.6 L632.3,663.1 L633.9,660.5 L635.5,658.1 L637.1,655.6 L638.7,653.2 L640.3,650.8 L641.9,648.4 L643.5,646.1 L645.1,643.8 L646.7,641.5 L648.3,639.3 L649.9,637.1 L651.5,634.9 L653.1,632.7 L654.7,630.6 L656.3,628.5 L657.9,626.5 L659.5,624.5 L661.1,622.5 L662.7,620.5 L664.3,618.6 L665.9,616.7 L667.5,614.8 L669.1,613.0 L670.7,611.2 L672.3,609.5 L673.9,607.8 L675.5,606.1 L677.1,604.4 L678.7,602.8 L680.3,601.2 L681.9,599.6 L683.5,598.1 L685.1,596.6 L686.7,595.2 L688.3,593.8 L689.9,592.4 L691.5,591.1 L693.1,589.7 L694.7,588.5 L696.3,587.2 L697.9,586.0 L699.5,584.8 L701.1,583.7 L702.7,582.5 L704.3,581.5 L705.9,580.4 L707.5,579.4 L709.1,578.4 L710.7,577.4 L712.3,576.5 L713.9,575.6 L715.5,574.7 L717.1,573.9 L718.7,573.1 L720.3,572.3 L721.9,571.6 L723.5,570.8 L725.1,570.2 L726.7,569.5 L728.3,568.9 L729.9,568.3 L731.5,567.7 L733.1,567.2 L734.7,566.6 L736.3,566.2 L737.9,565.7 L739.5,565.3 L741.1,564.9 L742.7,564.5 L744.3,564.1 L745.9,563.8 L747.5,563.5 L749.1,563.3 L750.7,563.0 L752.3,562.8 L753.9,562.6 L755.5,562.5 L757.1,562.3 L758.7,562.2 L760.2,562.1 L761.8,562.1 L763.4,562.0 L765.0,562.0 L766.6,562.0 L768.2,562.1 L769.8,562.1 L771.4,562.2 L773.0,562.3 L774.6,562.5 L776.2,562.6 L777.8,562.8 L779.4,563.0 L781.0,563.3 L782.6,563.5 L784.2,563.8 L785.8,564.1 L787.4,564.4 L789.0,564.7 L790.6,565.1 L792.2,565.5 L793.8,565.9 L795.4,566.3 L797.0,566.8 L798.6,567.2 L800.2,567.7 L801.8,568.2 L803.4,568.8 L805.0,569.3 L806.6,569.9 L808.2,570.5 L809.8,571.1 L811.4,571.7 L813.0,572.4 L814.6,573.0 L816.2,573.7 L817.8,574.4 L819.4,575.2 L821.0,575.9 L822.6,576.7 L824.2,577.5 L825.8,578.3 L827.4,579.1 L829.0,579.9 L830.6,580.8 L832.2,581.6 L833.8,582.5 L835.4,583.4 L837.0,584.3 L838.6,585.3 L840.2,586.2 L841.8,587.2 L843.4,588.2 L845.0,589.1 L846.6,590.2 L848.2,591.2 L849.8,592.2 L851.4,593.3 L853.0,594.4 L854.6,595.4 L856.2,596.5 L857.8,597.7 L859.4,598.8 L861.0,599.9 L862.6,601.1 L864.2,602.3 L865.8,603.4 L867.4,604.6 L869.0,605.8 L870.6,607.1 L872.2,608.3 L873.8,609.5 L875.4,610.8 L877.0,612.1 L878.6,613.3 L880.2,614.6 L881.8,615.9 L883.4,617.2 L885.0,618.6 L886.6,619.9 L888.2,621.3 L889.8,622.6 L891.4,624.0 L893.0,625.3 L894.6,626.7 L896.2,628.1 L897.8,629.5 L899.4,630.9 L901.0,632.4 L902.6,633.8 L904.2,635.2 L905.8,636.7 L907.4,638.2 L909.0,639.6 L910.6,641.1 L912.2,642.6 L913.8,644.1 L915.4,645.6 L917.0,647.1 L918.6,648.6 L920.1,650.1 L921.7,651.6 L923.3,653.1 L924.9,654.7 L926.5,656.2 L928.1,657.8 L929.7,659.3 L931.3,660.9 L932.9,662.4 L934.5,664.0 L936.1,665.6 L937.7,667.2 L939.3,668.7 L940.9,670.3 L942.5,671.9 L944.1,673.5 L945.7,675.1 L947.3,676.7 L948.9,678.3 L950.5,679.9 L952.1,681.5 L953.7,683.2 L955.3,684.8 L956.9,686.4 L958.5,688.0 L960.1,689.6 L961.7,691.3 L963.3,692.9 L964.9,694.5 L966.5,696.2 L968.1,697.8 L969.7,699.4 L971.3,701.1 L972.9,702.7 L974.5,704.3 L976.1,706.0 L977.7,707.6 L979.3,709.2 L980.9,710.9 L982.5,712.5 L984.1,714.1 L985.7,715.8 L987.3,717.4 L988.9,719.0 L990.5,720.7 L992.1,722.3 L993.7,723.9 L995.3,725.5 L996.9,727.2 L998.5,728.8 L1000.1,730.4 L1001.7,732.0 L1003.3,733.6 L1004.9,735.2 L1006.5,736.8 L1008.1,738.4 L1009.7,740.0 L1011.3,741.6 L1012.9,743.2 L1014.5,744.8 L1016.1,746.4 L1017.7,748.0 L1019.3,749.6 L1020.9,751.1 L1022.5,752.7 L1024.1,754.3 L1025.7,755.8 L1027.3,757.4 L1028.9,759.0 L1030.5,760.5 L1032.1,762.1 L1033.7,763.6 L1035.3,765.2 L1036.9,766.7 L1038.5,768.2 L1040.1,769.8 L1041.7,771.3 L1043.3,772.8 L1044.9,774.3 L1046.5,775.8 L1048.1,777.4 L1049.7,778.9 L1051.3,780.4 L1052.9,781.9 L1054.5,783.3 L1056.1,784.8 L1057.7,786.3 L1059.3,787.8 L1060.9,789.3 L1062.5,790.7 L1064.1,792.2 L1065.7,793.7 L1067.3,795.1 L1068.9,796.6 L1070.5,798.0 L1072.1,799.4 L1073.7,800.9 L1075.3,802.3 L1076.9,803.7 L1078.5,805.1 L1080.1,806.5 L1081.6,807.9 L1083.2,809.3 L1084.8,810.7 L1086.4,812.1 L1088.0,813.5 L1089.6,814.9 L1091.2,816.2 L1092.8,817.6 L1094.4,819.0 L1096.0,820.3 L1097.6,821.7 L1099.2,823.0 L1100.8,824.3 L1102.4,825.7 L1104.0,827.0 L1105.6,828.3 L1107.2,829.6 L1108.8,830.9 L1110.4,832.2 L1112.0,833.5 L1113.6,834.8 L1115.2,836.1 L1116.8,837.3 L1118.4,838.6 L1120.0,839.8 L1121.6,841.1 L1123.2,842.3 L1124.8,843.6 L1126.4,844.8 L1128.0,846.0 L1129.6,847.2 L1131.2,848.4 L1132.8,849.6 L1134.4,850.8 L1136.0,852.0 L1137.6,853.2 L1139.2,854.4 L1140.8,855.5 L1142.4,856.7 L1144.0,857.8 L1145.6,858.9 L1147.2,860.1 L1148.8,861.2 L1150.4,862.3 L1152.0,863.4 L1153.6,864.5 L1155.2,865.6 L1156.8,866.7 L1158.4,867.8 L1160.0,868.8 L1161.6,869.9 L1163.2,870.9 L1164.8,872.0 L1166.4,873.0 L1168.0,874.0 L1169.6,875.0 L1171.2,876.1 L1172.8,877.0 L1174.4,878.0 L1176.0,879.0 L1177.6,880.0 L1179.2,881.0 L1180.8,881.9 L1182.4,882.8 L1184.0,883.8 L1185.6,884.7 L1187.2,885.6 L1188.8,886.5 L1190.4,887.4 L1192.0,888.3 L1193.6,889.2 L1195.2,890.1 L1196.8,890.9 L1198.4,891.8 L1200.0,892.6 L1201.6,893.5 L1203.2,894.3 L1204.8,895.1 L1206.4,895.9 L1208.0,896.7 L1209.6,897.5 L1211.2,898.2 L1212.8,899.0 L1214.4,899.7 L1216.0,900.5 L1217.6,901.2 L1219.2,901.9 L1220.8,902.7 L1222.4,903.4 L1224.0,904.0 L1225.6,904.7 L1227.2,905.4 L1228.8,906.1 L1230.4,906.7 L1232.0,907.3 L1233.6,908.0 L1235.2,908.6 L1236.8,909.2 L1238.4,909.8 L1240.0,910.4 L1241.5,910.9 L1243.1,911.5 L1244.7,912.0 L1246.3,912.6 L1247.9,913.1 L1249.5,913.6 L1251.1,914.1 L1252.7,914.6 L1254.3,915.1 L1255.9,915.6 L1257.5,916.0 L1259.1,916.5 L1260.7,916.9 L1262.3,917.3 L1263.9,917.7 L1265.5,918.1 L1267.1,918.5 L1268.7,918.9 L1270.3,919.3 L1271.9,919.6 L1273.5,919.9 L1275.1,920.3 L1276.7,920.6 L1278.3,920.9 L1279.9,921.2 L1281.5,921.4 L1283.1,921.7 L1284.7,922.0 L1286.3,922.2 L1287.9,922.4 L1289.5,922.6 L1291.1,922.8 L1292.7,923.0 L1294.3,923.2 L1295.9,923.4 L1297.5,923.5 L1299.1,923.7 L1300.7,923.8 L1302.3,923.9 L1303.9,924.0 L1305.5,924.1 L1307.1,924.1 L1308.7,924.2 L1310.3,924.2 L1311.9,924.3 L1313.5,924.3 L1315.1,924.3 L1316.7,924.3 L1318.3,924.2 L1319.9,924.2 L1321.5,924.1 L1323.1,924.1 L1324.7,924.0 L1326.3,923.9 L1327.9,923.8 L1329.5,923.7 L1331.1,923.5 L1332.7,923.4 L1334.3,923.2 L1335.9,923.1 L1337.5,922.9 L1339.1,922.7 L1340.7,922.5 L1342.3,922.2 L1343.9,922.0 L1345.5,921.7 L1347.1,921.5 L1348.7,921.2 L1350.3,920.9 L1351.9,920.6 L1353.5,920.3 L1355.1,920.0 L1356.7,919.6 L1358.3,919.3 L1359.9,918.9 L1361.5,918.5 L1363.1,918.1 L1364.7,917.7 L1366.3,917.3 L1367.9,916.9 L1369.5,916.5 L1371.1,916.0 L1372.7,915.6 L1374.3,915.1 L1375.9,914.6 L1377.5,914.1 L1379.1,913.6 L1380.7,913.1 L1382.3,912.6 L1383.9,912.0 L1385.5,911.5 L1387.1,910.9 L1388.7,910.3 L1390.3,909.8 L1391.9,909.2 L1393.5,908.6 L1395.1,907.9 L1396.7,907.3 L1398.3,906.7 L1399.9,906.0 L1401.4,905.4 L1403.0,904.7 L1404.6,904.0 L1406.2,903.3 L1407.8,902.6 L1409.4,901.9 L1411.0,901.2 L1412.6,900.5 L1414.2,899.8 L1415.8,899.0 L1417.4,898.2 L1419.0,897.5 L1420.6,896.7 L1422.2,895.9 L1423.8,895.1 L1425.4,894.3 L1427.0,893.5 L1428.6,892.7 L1430.2,891.9 L1431.8,891.0 L1433.4,890.2 L1435.0,889.3 L1436.6,888.4 L1438.2,887.6 L1439.8,886.7 L1441.4,885.8 L1443.0,884.9 L1444.6,884.0 L1446.2,883.0 L1447.8,882.1 L1449.4,881.2 L1451.0,880.2 L1452.6,879.3 L1454.2,878.3 L1455.8,877.4 L1457.4,876.4 L1459.0,875.4 L1460.6,874.4 L1462.2,873.4 L1463.8,872.4 L1465.4,871.4 L1467.0,870.4 L1468.6,869.3 L1470.2,868.3 L1471.8,867.2 L1473.4,866.2 L1475.0,865.1 L1476.6,864.1 L1478.2,863.0 L1479.8,861.9 L1481.4,860.8 L1483.0,859.7 L1484.6,858.6 L1486.2,857.5 L1487.8,856.4 L1489.4,855.3 L1491.0,854.2 L1492.6,853.0 L1494.2,851.9 L1495.8,850.7 L1497.4,849.6 L1499.0,848.4 L1500.6,847.3 L1502.2,846.1 L1503.8,844.9 L1505.4,843.7 L1507.0,842.5 L1508.6,841.3 L1510.2,840.1 L1511.8,838.9 L1513.4,837.7 L1515.0,836.5 L1516.6,835.3 L1518.2,834.0 L1519.8,832.8 L1521.4,831.6 L1523.0,830.3 L1524.6,829.1 L1526.2,827.8 L1527.8,826.6 L1529.4,825.3 L1531.0,824.0 L1532.6,822.8 L1534.2,821.5 L1535.8,820.2 L1537.4,818.9 L1539.0,817.6 L1540.6,816.3 L1542.2,815.0 L1543.8,813.7 L1545.4,812.4 L1547.0,811.1 L1548.6,809.8 L1550.2,808.5 L1551.8,807.2 L1553.4,805.8 L1555.0,804.5 L1556.6,803.2 L1558.2,801.8 L1559.8,800.5 L1561.3,799.1 L1562.9,797.8 L1564.5,796.4 L1566.1,795.1 L1567.7,793.7 L1569.3,792.4 L1570.9,791.0 L1572.5,789.6 L1574.1,788.3 L1575.7,786.9 L1577.3,785.5 L1578.9,784.1 L1580.5,782.7 L1582.1,781.4 L1583.7,780.0 L1585.3,778.6 L1586.9,777.2 L1588.5,775.8 L1590.1,774.4 L1591.7,773.0 L1593.3,771.6 L1594.9,770.2 L1596.5,768.8 L1598.1,767.4 L1599.7,766.0 L1601.3,764.6 L1602.9,763.2 L1604.5,761.7 L1606.1,760.3 L1607.7,758.9 L1609.3,757.5 L1610.9,756.1 L1612.5,754.7 L1614.1,753.2 L1615.7,751.8 L1617.3,750.4 L1618.9,749.0 L1620.5,747.5 L1622.1,746.1 L1623.7,744.7 L1625.3,743.3 L1626.9,741.8 L1628.5,740.4 L1630.1,739.0 L1631.7,737.6 L1633.3,736.1 L1634.9,734.7 L1636.5,733.3 L1638.1,731.8 L1639.7,730.4" fill="none" stroke="#000" stroke-width="7.0" stroke-linejoin="round"/>
<path d="M360.5,1376.4 L362.1,1371.2 L363.7,1366.1 L365.3,1360.9 L366.9,1355.8 L368.5,1350.6 L370.1,1345.4 L371.7,1340.3 L373.3,1335.1 L374.9,1330.0 L376.5,1324.8 L378.1,1319.7 L379.7,1314.5 L381.3,1309.4 L382.9,1304.2 L384.5,1299.1 L386.1,1294.0 L387.7,1288.8 L389.3,1283.7 L390.9,1278.6 L392.5,1273.5 L394.1,1268.4 L395.7,1263.3 L397.3,1258.2 L398.9,1253.1 L400.5,1248.0 L402.1,1242.9 L403.7,1237.8 L405.3,1232.7 L406.9,1227.7 L408.5,1222.6 L410.1,1217.6 L411.7,1212.5 L413.3,1207.5 L414.9,1202.5 L416.5,1197.4 L418.1,1192.4 L419.7,1187.4 L421.3,1182.4 L422.9,1177.5 L424.5,1172.5 L426.1,1167.5 L427.7,1162.6 L429.3,1157.6 L430.9,1152.7 L432.5,1147.8 L434.1,1142.9 L435.7,1138.0 L437.3,1133.1 L438.9,1128.2 L440.4,1123.3 L442.0,1118.5 L443.6,1113.6 L445.2,1108.8 L446.8,1104.0 L448.4,1099.2 L450.0,1094.4 L451.6,1089.6 L453.2,1084.8 L454.8,1080.1 L456.4,1075.4 L458.0,1070.6 L459.6,1065.9 L461.2,1061.2 L462.8,1056.6 L464.4,1051.9 L466.0,1047.3 L467.6,1042.6 L469.2,1038.0 L470.8,1033.4 L472.4,1028.8 L474.0,1024.3 L475.6,1019.7 L477.2,1015.2 L478.8,1010.7 L480.4,1006.2 L482.0,1001.7 L483.6,997.3 L485.2,992.8 L486.8,988.4 L488.4,984.0 L490.0,979.6 L491.6,975.3 L493.2,970.9 L494.8,966.6 L496.4,962.3 L498.0,958.0 L499.6,953.8 L501.2,949.5 L502.8,945.3 L504.4,941.1 L506.0,937.0 L507.6,932.8 L509.2,928.7 L510.8,924.6 L512.4,920.5 L514.0,916.4 L515.6,912.4 L517.2,908.4 L518.8,904.4 L520.4,900.4 L522.0,896.5 L523.6,892.5 L525.2,888.7 L526.8,884.8 L528.4,880.9 L530.0,877.1 L531.6,873.3 L533.2,869.6 L534.8,865.8 L536.4,862.1 L538.0,858.4 L539.6,854.8 L541.2,851.1 L542.8,847.5 L544.4,843.9 L546.0,840.4 L547.6,836.9 L549.2,833.4 L550.8,829.9 L552.4,826.5 L554.0,823.0 L555.6,819.7 L557.2,816.3 L558.8,813.0 L560.4,809.7 L562.0,806.4 L563.6,803.2 L565.2,800.0 L566.8,796.8 L568.4,793.7 L570.0,790.6 L571.6,787.5 L573.2,784.5 L574.8,781.5 L576.4,778.5 L578.0,775.5 L579.6,772.6 L581.2,769.7 L582.8,766.9 L584.4,764.1 L586.0,761.3 L587.6,758.6 L589.2,755.8 L590.8,753.2 L592.4,750.5 L594.0,747.9 L595.6,745.3 L597.2,742.8 L598.8,740.3 L600.4,737.8 L601.9,735.4 L603.5,733.0 L605.1,730.7 L606.7,728.3 L608.3,726.1 L609.9,723.8 L611.5,721.6 L613.1,719.5 L614.7,717.3 L616.3,715.2 L617.9,713.2 L619.5,711.2 L621.1,709.2 L622.7,707.2 L624.3,705.4 L625.9,703.5 L627.5,701.7 L629.1,699.9 L630.7,698.2 L632.3,696.5 L633.9,694.8 L635.5,693.2 L637.1,691.6 L638.7,690.1 L640.3,688.6 L641.9,687.2 L643.5,685.8 L645.1,684.4 L646.7,683.1 L648.3,681.8 L649.9,680.6 L651.5,679.4 L653.1,678.3 L654.7,677.2 L656.3,676.1 L657.9,675.1 L659.5,674.1 L661.1,673.2 L662.7,672.3 L664.3,671.5 L665.9,670.7 L667.5,670.0 L669.1,669.3 L670.7,668.7 L672.3,668.1 L673.9,667.5 L675.5,667.0 L677.1,666.6 L678.7,666.2 L680.3,665.8 L681.9,665.5 L683.5,665.2 L685.1,665.0 L686.7,664.8 L688.3,664.7 L689.9,664.6 L691.5,664.6 L693.1,664.6 L694.7,664.7 L696.3,664.8 L697.9,664.9 L699.5,665.1 L701.1,665.4 L702.7,665.7 L704.3,666.0 L705.9,666.3 L707.5,666.7 L709.1,667.2 L710.7,667.7 L712.3,668.2 L713.9,668.8 L715.5,669.4 L717.1,670.0 L718.7,670.7 L720.3,671.4 L721.9,672.2 L723.5,672.9 L725.1,673.8 L726.7,674.6 L728.3,675.5 L729.9,676.5 L731.5,677.5 L733.1,678.5 L734.7,679.5 L736.3,680.6 L737.9,681.7 L739.5,682.8 L741.1,684.0 L742.7,685.2 L744.3,686.4 L745.9,687.7 L747.5,689.0 L749.1,690.3 L750.7,691.7 L752.3,693.1 L753.9,694.5 L755.5,695.9 L757.1,697.4 L758.7,698.9 L760.2,700.4 L761.8,702.0 L763.4,703.6 L765.0,705.2 L766.6,706.8 L768.2,708.4 L769.8,710.1 L771.4,711.8 L773.0,713.6 L774.6,715.3 L776.2,717.1 L777.8,718.9 L779.4,720.7 L781.0,722.5 L782.6,724.4 L784.2,726.3 L785.8,728.2 L787.4,730.1 L789.0,732.0 L790.6,734.0 L792.2,736.0 L793.8,738.0 L795.4,740.0 L797.0,742.0 L798.6,744.1 L800.2,746.1 L801.8,748.2 L803.4,750.3 L805.0,752.4 L806.6,754.5 L808.2,756.7 L809.8,758.8 L811.4,761.0 L813.0,763.2 L814.6,765.4 L816.2,767.6 L817.8,769.8 L819.4,772.0 L821.0,774.3 L822.6,776.5 L824.2,778.8 L825.8,781.0 L827.4,783.3 L829.0,785.6 L830.6,787.9 L832.2,790.2 L833.8,792.5 L835.4,794.8 L837.0,797.1 L838.6,799.4 L840.2,801.8 L841.8,804.1 L843.4,806.5 L845.0,808.8 L846.6,811.2 L848.2,813.5 L849.8,815.9 L851.4,818.2 L853.0,820.6 L854.6,822.9 L856.2,825.3 L857.8,827.7 L859.4,830.0 L861.0,832.4 L862.6,834.8 L864.2,837.1 L865.8,839.5 L867.4,841.8 L869.0,844.2 L870.6,846.6 L872.2,848.9 L873.8,851.3 L875.4,853.6 L877.0,855.9 L878.6,858.3 L880.2,860.6 L881.8,862.9 L883.4,865.3 L885.0,867.6 L886.6,869.9 L888.2,872.2 L889.8,874.5 L891.4,876.7 L893.0,879.0 L894.6,881.3 L896.2,883.5 L897.8,885.8 L899.4,888.0 L901.0,890.2 L902.6,892.4 L904.2,894.6 L905.8,896.8 L907.4,899.0 L909.0,901.2 L910.6,903.3 L912.2,905.4 L913.8,907.6 L915.4,909.7 L917.0,911.8 L918.6,913.8 L920.1,915.9 L921.7,917.9 L923.3,920.0 L924.9,922.0 L926.5,924.0 L928.1,925.9 L929.7,927.9 L931.3,929.8 L932.9,931.7 L934.5,933.6 L936.1,935.5 L937.7,937.3 L939.3,939.2 L940.9,941.0 L942.5,942.8 L944.1,944.5 L945.7,946.3 L947.3,948.0 L948.9,949.7 L950.5,951.4 L952.1,953.0 L953.7,954.6 L955.3,956.2 L956.9,957.8 L958.5,959.4 L960.1,960.9 L961.7,962.4 L963.3,963.8 L964.9,965.3 L966.5,966.7 L968.1,968.0 L969.7,969.4 L971.3,970.7 L972.9,972.0 L974.5,973.2 L976.1,974.5 L977.7,975.7 L979.3,976.8 L980.9,977.9 L982.5,979.0 L984.1,980.1 L985.7,981.1 L987.3,982.1 L988.9,983.1 L990.5,984.0 L992.1,984.9 L993.7,985.8 L995.3,986.6 L996.9,987.4 L998.5,988.1 L1000.1,988.8 L1001.7,989.5 L1003.3,990.1 L1004.9,990.7 L1006.5,991.2 L1008.1,991.8 L1009.7,992.2 L1011.3,992.7 L1012.9,993.1 L1014.5,993.5 L1016.1,993.8 L1017.7,994.1 L1019.3,994.4 L1020.9,994.6 L1022.5,994.8 L1024.1,995.0 L1025.7,995.1 L1027.3,995.2 L1028.9,995.3 L1030.5,995.3 L1032.1,995.3 L1033.7,995.2 L1035.3,995.2 L1036.9,995.1 L1038.5,994.9 L1040.1,994.8 L1041.7,994.6 L1043.3,994.4 L1044.9,994.1 L1046.5,993.8 L1048.1,993.5 L1049.7,993.1 L1051.3,992.8 L1052.9,992.4 L1054.5,991.9 L1056.1,991.5 L1057.7,991.0 L1059.3,990.5 L1060.9,989.9 L1062.5,989.3 L1064.1,988.7 L1065.7,988.1 L1067.3,987.4 L1068.9,986.8 L1070.5,986.0 L1072.1,985.3 L1073.7,984.5 L1075.3,983.8 L1076.9,982.9 L1078.5,982.1 L1080.1,981.2 L1081.6,980.4 L1083.2,979.5 L1084.8,978.5 L1086.4,977.6 L1088.0,976.6 L1089.6,975.6 L1091.2,974.5 L1092.8,973.5 L1094.4,972.4 L1096.0,971.3 L1097.6,970.2 L1099.2,969.1 L1100.8,967.9 L1102.4,966.7 L1104.0,965.5 L1105.6,964.3 L1107.2,963.1 L1108.8,961.8 L1110.4,960.6 L1112.0,959.3 L1113.6,957.9 L1115.2,956.6 L1116.8,955.3 L1118.4,953.9 L1120.0,952.5 L1121.6,951.1 L1123.2,949.7 L1124.8,948.2 L1126.4,946.8 L1128.0,945.3 L1129.6,943.8 L1131.2,942.3 L1132.8,940.8 L1134.4,939.2 L1136.0,937.7 L1137.6,936.1 L1139.2,934.5 L1140.8,933.0 L1142.4,931.3 L1144.0,929.7 L1145.6,928.1 L1147.2,926.4 L1148.8,924.8 L1150.4,923.1 L1152.0,921.4 L1153.6,919.7 L1155.2,918.0 L1156.8,916.3 L1158.4,914.6 L1160.0,912.8 L1161.6,911.1 L1163.2,909.3 L1164.8,907.5 L1166.4,905.7 L1168.0,903.9 L1169.6,902.1 L1171.2,900.3 L1172.8,898.5 L1174.4,896.7 L1176.0,894.8 L1177.6,893.0 L1179.2,891.1 L1180.8,889.3 L1182.4,887.4 L1184.0,885.5 L1185.6,883.6 L1187.2,881.8 L1188.8,879.9 L1190.4,878.0 L1192.0,876.1 L1193.6,874.2 L1195.2,872.2 L1196.8,870.3 L1198.4,868.4 L1200.0,866.5 L1201.6,864.5 L1203.2,862.6 L1204.8,860.7 L1206.4,858.7 L1208.0,856.8 L1209.6,854.8 L1211.2,852.9 L1212.8,850.9 L1214.4,849.0 L1216.0,847.0 L1217.6,845.1 L1219.2,843.1 L1220.8,841.2 L1222.4,839.2 L1224.0,837.3 L1225.6,835.3 L1227.2,833.3 L1228.8,831.4 L1230.4,829.4 L1232.0,827.5 L1233.6,825.5 L1235.2,823.6 L1236.8,821.6 L1238.4,819.7 L1240.0,817.8 L1241.5,815.8 L1243.1,813.9 L1244.7,812.0 L1246.3,810.0 L1247.9,808.1 L1249.5,806.2 L1251.1,804.3 L1252.7,802.4 L1254.3,800.5 L1255.9,798.6 L1257.5,796.7 L1259.1,794.8 L1260.7,792.9 L1262.3,791.1 L1263.9,789.2 L1265.5,787.3 L1267.1,785.5 L1268.7,783.6 L1270.3,781.8 L1271.9,780.0 L1273.5,778.2 L1275.1,776.4 L1276.7,774.6 L1278.3,772.8 L1279.9,771.0 L1281.5,769.2 L1283.1,767.4 L1284.7,765.7 L1286.3,764.0 L1287.9,762.2 L1289.5,760.5 L1291.1,758.8 L1292.7,757.1 L1294.3,755.4 L1295.9,753.8 L1297.5,752.1 L1299.1,750.5 L1300.7,748.8 L1302.3,747.2 L1303.9,745.6 L1305.5,744.0 L1307.1,742.4 L1308.7,740.9 L1310.3,739.3 L1311.9,737.8 L1313.5,736.3 L1315.1,734.8 L1316.7,733.3 L1318.3,731.9 L1319.9,730.4 L1321.5,729.0 L1323.1,727.5 L1324.7,726.1 L1326.3,724.8 L1327.9,723.4 L1329.5,722.0 L1331.1,720.7 L1332.7,719.4 L1334.3,718.1 L1335.9,716.8 L1337.5,715.5 L1339.1,714.3 L1340.7,713.0 L1342.3,711.8 L1343.9,710.6 L1345.5,709.4 L1347.1,708.2 L1348.7,707.1 L1350.3,705.9 L1351.9,704.8 L1353.5,703.7 L1355.1,702.6 L1356.7,701.5 L1358.3,700.4 L1359.9,699.4 L1361.5,698.3 L1363.1,697.3 L1364.7,696.3 L1366.3,695.3 L1367.9,694.3 L1369.5,693.3 L1371.1,692.4 L1372.7,691.5 L1374.3,690.5 L1375.9,689.6 L1377.5,688.7 L1379.1,687.8 L1380.7,687.0 L1382.3,686.1 L1383.9,685.3 L1385.5,684.4 L1387.1,683.6 L1388.7,682.8 L1390.3,682.0 L1391.9,681.2 L1393.5,680.5 L1395.1,679.7 L1396.7,679.0 L1398.3,678.2 L1399.9,677.5 L1401.4,676.8 L1403.0,676.1 L1404.6,675.5 L1406.2,674.8 L1407.8,674.2 L1409.4,673.5 L1411.0,672.9 L1412.6,672.3 L1414.2,671.7 L1415.8,671.1 L1417.4,670.5 L1419.0,669.9 L1420.6,669.4 L1422.2,668.8 L1423.8,668.3 L1425.4,667.8 L1427.0,667.3 L1428.6,666.8 L1430.2,666.3 L1431.8,665.8 L1433.4,665.3 L1435.0,664.9 L1436.6,664.4 L1438.2,664.0 L1439.8,663.6 L1441.4,663.1 L1443.0,662.7 L1444.6,662.3 L1446.2,662.0 L1447.8,661.6 L1449.4,661.2 L1451.0,660.9 L1452.6,660.5 L1454.2,660.2 L1455.8,659.9 L1457.4,659.6 L1459.0,659.3 L1460.6,659.0 L1462.2,658.7 L1463.8,658.4 L1465.4,658.1 L1467.0,657.9 L1468.6,657.6 L1470.2,657.4 L1471.8,657.2 L1473.4,656.9 L1475.0,656.7 L1476.6,656.5 L1478.2,656.3 L1479.8,656.1 L1481.4,656.0 L1483.0,655.8 L1484.6,655.6 L1486.2,655.5 L1487.8,655.3 L1489.4,655.2 L1491.0,655.1 L1492.6,654.9 L1494.2,654.8 L1495.8,654.7 L1497.4,654.6 L1499.0,654.5 L1500.6,654.4 L1502.2,654.4 L1503.8,654.3 L1505.4,654.2 L1507.0,654.2 L1508.6,654.1 L1510.2,654.1 L1511.8,654.0 L1513.4,654.0 L1515.0,654.0 L1516.6,654.0 L1518.2,654.0 L1519.8,654.0 L1521.4,654.0 L1523.0,654.0 L1524.6,654.0 L1526.2,654.0 L1527.8,654.0 L1529.4,654.1 L1531.0,654.1 L1532.6,654.2 L1534.2,654.2 L1535.8,654.3 L1537.4,654.3 L1539.0,654.4 L1540.6,654.5 L1542.2,654.5 L1543.8,654.6 L1545.4,654.7 L1547.0,654.8 L1548.6,654.9 L1550.2,655.0 L1551.8,655.1 L1553.4,655.2 L1555.0,655.3 L1556.6,655.5 L1558.2,655.6 L1559.8,655.7 L1561.3,655.9 L1562.9,656.0 L1564.5,656.1 L1566.1,656.3 L1567.7,656.4 L1569.3,656.6 L1570.9,656.7 L1572.5,656.9 L1574.1,657.1 L1575.7,657.2 L1577.3,657.4 L1578.9,657.6 L1580.5,657.8 L1582.1,657.9 L1583.7,658.1 L1585.3,658.3 L1586.9,658.5 L1588.5,658.7 L1590.1,658.9 L1591.7,659.1 L1593.3,659.3 L1594.9,659.5 L1596.5,659.7 L1598.1,659.9 L1599.7,660.1 L1601.3,660.3 L1602.9,660.5 L1604.5,660.7 L1606.1,661.0 L1607.7,661.2 L1609.3,661.4 L1610.9,661.6 L1612.5,661.8 L1614.1,662.1 L1615.7,662.3 L1617.3,662.5 L1618.9,662.8 L1620.5,663.0 L1622.1,663.2 L1623.7,663.4 L1625.3,663.7 L1626.9,663.9 L1628.5,664.1 L1630.1,664.4 L1631.7,664.6 L1633.3,664.9 L1634.9,665.1 L1636.5,665.3 L1638.1,665.6 L1639.7,665.8" fill="none" stroke="#000" stroke-width="7.0" stroke-linejoin="round"/>
<path d="M360.5,1349.1 L383.0,1390.1 L338.0,1390.1 Z" fill="#000"/>
<rect x="342.5" y="1358.4" width="36" height="36" fill="#000"/>
<rect x="344.4" y="1360.3" width="32.3" height="32.3" fill="#fff" stroke="#000" stroke-width="3.7"/>
<circle cx="360.5" cy="1376.4" r="16.2" fill="#fff" stroke="#000" stroke-width="3.6"/>
<path d="M680.3,896.9 L702.8,937.9 L657.8,937.9 Z" fill="#000"/>
<path d="M1000.1,315.5 L1022.6,356.5 L977.6,356.5 Z" fill="#000"/>
<path d="M1319.9,638.5 L1342.4,679.5 L1297.4,679.5 Z" fill="#000"/>
<path d="M1639.7,767.7 L1662.2,808.7 L1617.2,808.7 Z" fill="#000"/>
<rect x="664.1" y="649.6" width="32.3" height="32.3" fill="#fff" stroke="#000" stroke-width="3.7"/>
<rect x="984.0" y="68.3" width="32.3" height="32.3" fill="#fff" stroke="#000" stroke-width="3.7"/>
<rect x="1303.8" y="455.9" width="32.3" height="32.3" fill="#fff" stroke="#000" stroke-width="3.7"/>
<rect x="1623.5" y="714.3" width="32.3" height="32.3" fill="#fff" stroke="#000" stroke-width="3.7"/>
<rect x="662.3" y="583.2" width="36" height="36" fill="#000"/>
<rect x="982.1" y="712.4" width="36" height="36" fill="#000"/>
<rect x="1301.9" y="906.2" width="36" height="36" fill="#000"/>
<rect x="1621.7" y="712.4" width="36" height="36" fill="#000"/>
<circle cx="680.3" cy="665.8" r="16.2" fill="#fff" stroke="#000" stroke-width="3.6"/>
<circle cx="1000.1" cy="988.8" r="16.2" fill="#fff" stroke="#000" stroke-width="3.6"/>
<circle cx="1319.9" cy="730.4" r="16.2" fill="#fff" stroke="#000" stroke-width="3.6"/>
<circle cx="1639.7" cy="665.8" r="16.2" fill="#fff" stroke="#000" stroke-width="3.6"/>
<rect x="322" y="95.5" width="137" height="7" fill="#000"/>
<rect x="322" y="167.7" width="137" height="7" fill="#000"/>
<rect x="322" y="239.8" width="137" height="7" fill="#000"/>
<rect x="322" y="308.5" width="137" height="7" fill="#000"/>
<rect x="323" y="102.5" width="136" height="3.5" fill="#3c4646"/>
<rect x="323" y="174.6" width="136" height="3.4" fill="#3c4646"/>
<rect x="323" y="315.5" width="136" height="3.1" fill="#3c4646"/>
<rect x="377.9" y="90.0" width="21.5" height="21.5" fill="#fff" stroke="#000" stroke-width="3.5"/>
<path d="M390.5,157.0 L405.0,182.0 L376.0,182.0 Z" fill="#000"/>
<rect x="376.1" y="228.8" width="25" height="25" fill="#000"/>
<circle cx="390.0" cy="313.5" r="10.2" fill="#fff" stroke="#000" stroke-width="2.5"/>
<text  font-size="58" x="466" y="120" >PP/PS/P1</text>
<text  font-size="58" x="469" y="191" >PP/PS/P2</text>
<text  font-size="58" x="469" y="259" >PP/PS/P3</text>
<text  font-size="58.5" x="469" y="331" >PP/PS/SEBS</text>
<text  font-size="82" transform="translate(329.5,1555) scale(1.05,1)" >0</text>
<text  font-size="82" transform="translate(651,1555) scale(1.05,1)" >1</text>
<text  font-size="82" transform="translate(972,1555) scale(1.1,1)" >2</text>
<text  font-size="82" transform="translate(1294,1555) scale(1.07,1)" >3</text>
<text  font-size="82" transform="translate(1618,1555) scale(1.05,1)" >4</text>
<text  font-size="86.5" transform="translate(667,1636.5) scale(1,0.95)" >Compatibilizer (%)</text>
<text  font-size="89" transform="translate(249,210) rotate(-90) scale(0.955,1)" >6.0</text>
<text  font-size="89" transform="translate(245,509.8) rotate(-90) scale(0.955,1)" >5.5</text>
<text  font-size="89" transform="translate(238,834) rotate(-90) scale(0.955,1)" >5.0</text>
<text  font-size="89" transform="translate(231,1151.8) rotate(-90) scale(0.955,1)" >4.5</text>
<text  font-size="89" transform="translate(226.5,1473) rotate(-90) scale(0.955,1)" >4.0</text>
<text  font-size="86" transform="translate(88,1214) rotate(-89.1)" >Impact strength (kJ/m<tspan font-size="67" dy="-26">2</tspan><tspan dy="26">)</tspan></text>
</svg></body></html>
